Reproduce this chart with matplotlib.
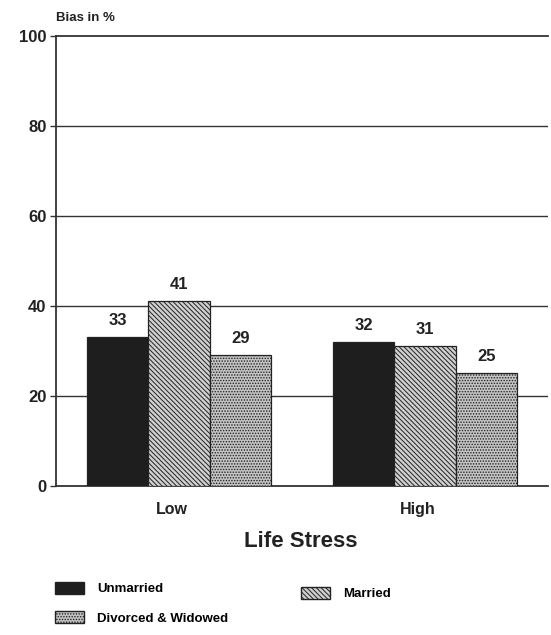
import numpy as np
import matplotlib.pyplot as plt
from matplotlib.patches import Patch

plt.rcParams['font.family'] = ['Liberation Sans', 'DejaVu Sans']
plt.rcParams['hatch.linewidth'] = 0.7

groups = ['Low', 'High']
series = ['Unmarried', 'Married', 'Divorced & Widowed']
values = {
    'Unmarried': [33, 32],
    'Married': [41, 31],
    'Divorced & Widowed': [29, 25],
}
yticks = [0, 20, 40, 60, 80, 100]

# style per series: facecolor, hatch
styles = {
    'Unmarried': ('#1e1e1e', None),
    'Married': ('#d0d0d0', '\\\\\\\\\\\\\\'),
    'Divorced & Widowed': ('#c4c4c4', '......'),
}

fig = plt.figure(figsize=(5.51, 6.35), dpi=100)
ax = fig.add_axes([0.102, 0.235, 0.893, 0.708])

x = np.arange(len(groups))
w = 0.25
for i, s in enumerate(series):
    fc, h = styles[s]
    bars = ax.bar(x + (i - 1) * w, values[s], w, color=fc, hatch=h,
                  edgecolor='#222222', linewidth=0.9, zorder=3)
    for b, v in zip(bars, values[s]):
        ax.text(b.get_x() + b.get_width() / 2, v + 2, str(v), ha='center',
                va='bottom', fontsize=12, fontweight='bold', color='#222222')

ax.set_xlim(-0.5, 1.5)
ax.set_ylim(0, 100)
ax.set_yticks(yticks)
ax.set_yticklabels([str(t) for t in yticks], fontsize=12, fontweight='bold',
                   color='#222222')
ax.set_xticks([])
for t in yticks[1:-1]:
    ax.axhline(t, color='#333333', lw=1.0, zorder=1)
ax.spines['right'].set_visible(False)
for sp in ['left', 'bottom', 'top']:
    ax.spines[sp].set_linewidth(1.3)
    ax.spines[sp].set_color('#333333')
ax.tick_params(axis='y', length=4, width=1, color='#333333', pad=3)

for xi, g in zip(x, groups):
    ax.text(xi - 0.03, -3.5, g, ha='center', va='top', fontsize=11.5,
            fontweight='bold', color='#222222')
fig.text(0.545, 0.148, 'Life Stress', ha='center', va='center', fontsize=16,
         fontweight='bold', color='#222222')
fig.text(0.102, 0.972, 'Bias in %', ha='left', va='center', fontsize=9.5,
         fontweight='bold', color='#222222')

handles = [Patch(facecolor=styles[s][0], hatch=styles[s][1],
                 edgecolor='#222222', label=s) for s in series]
fig.legend(handles=[handles[0], handles[2]], labels=[series[0], series[2]],
           loc='upper left', bbox_to_anchor=(0.088, 0.094), frameon=False,
           prop={'size': 9.5, 'weight': 'bold'}, handlelength=2.2,
           handleheight=1.0, handletextpad=1.0, labelspacing=1.2, borderpad=0)
fig.legend(handles=[handles[1]], labels=[series[1]], loc='upper left',
           bbox_to_anchor=(0.535, 0.086), frameon=False,
           prop={'size': 9.5, 'weight': 'bold'}, handlelength=2.2,
           handleheight=1.0, handletextpad=1.0, borderpad=0)

fig.savefig('out.png', dpi=100)
